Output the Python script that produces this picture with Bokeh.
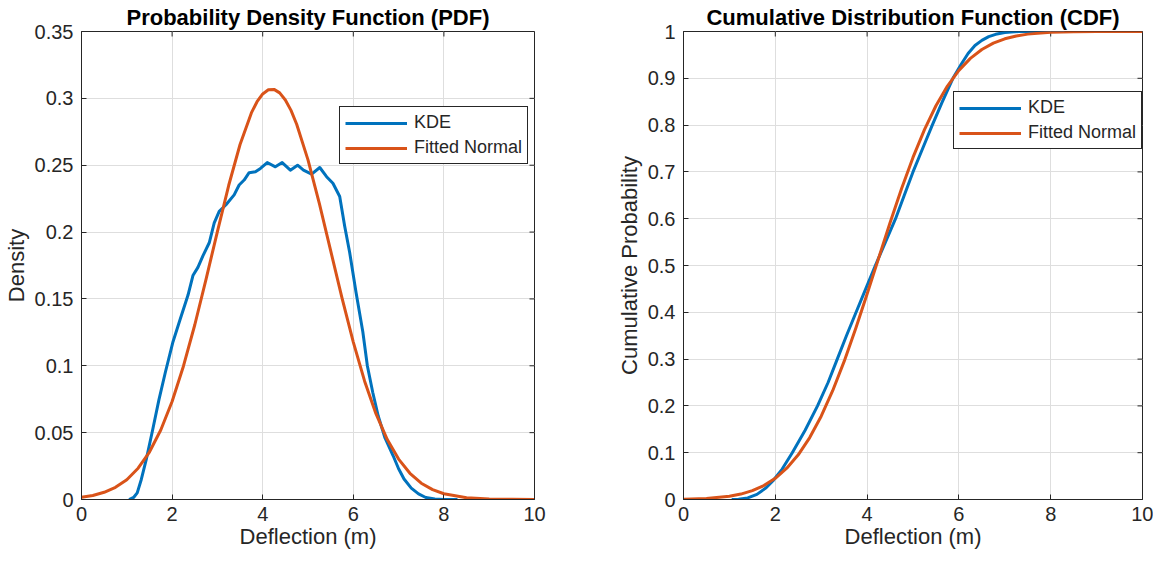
from math import pi
from bokeh.plotting import figure
from bokeh.layouts import row
from bokeh.models import FixedTicker, Legend, LegendItem
from bokeh.embed import file_html
from bokeh.resources import INLINE

# ---------------- data ----------------
x_ticks = [0, 2, 4, 6, 8, 10]
x_tick_labels = ["0", "2", "4", "6", "8", "10"]
pdf_y_ticks = [0, 0.05, 0.1, 0.15, 0.2, 0.25, 0.3, 0.35]
pdf_y_tick_labels = ["0", "0.05", "0.1", "0.15", "0.2", "0.25", "0.3", "0.35"]
cdf_y_ticks = [0, 0.1, 0.2, 0.3, 0.4, 0.5, 0.6, 0.7, 0.8, 0.9, 1]
cdf_y_tick_labels = ["0", "0.1", "0.2", "0.3", "0.4", "0.5", "0.6", "0.7", "0.8", "0.9", "1"]

kde_x = [1.05, 1.15, 1.23, 1.32, 1.43, 1.57, 1.71, 1.85, 2.02, 2.18, 2.35, 2.46,
         2.57, 2.68, 2.82, 2.93, 3.04, 3.19, 3.37, 3.48, 3.59, 3.70, 3.84, 3.95,
         4.10, 4.28, 4.43, 4.61, 4.77, 4.90, 5.08, 5.26, 5.41, 5.55, 5.70, 5.81,
         5.92, 6.06, 6.21, 6.31, 6.43, 6.55, 6.70, 6.88, 7.00, 7.12, 7.28, 7.44,
         7.60, 7.80, 8.00, 8.30]
kde_pdf = [0.0, 0.0015, 0.005, 0.015, 0.030, 0.052, 0.0747, 0.095, 0.118, 0.135,
           0.1527, 0.1675, 0.1736, 0.1822, 0.192, 0.2069, 0.2155, 0.2204, 0.2278,
           0.2352, 0.2389, 0.2444, 0.2451, 0.2476, 0.252, 0.2488, 0.252, 0.2463,
           0.25, 0.2463, 0.2433, 0.2483, 0.2414, 0.2365, 0.2266, 0.2044, 0.1847,
           0.155, 0.1255, 0.100, 0.080, 0.0624, 0.046, 0.0327, 0.023, 0.0153,
           0.0085, 0.0042, 0.0015, 0.0003, 0.0, 0.0]

norm_x = [0, 0.25, 0.5, 0.75, 1.0, 1.25, 1.5, 1.75, 2.0, 2.25, 2.5, 2.75, 3.0,
          3.25, 3.5, 3.75, 3.875, 4.0, 4.125, 4.25, 4.375, 4.5, 4.625, 4.75,
          5.0, 5.25, 5.5, 5.75, 6.0, 6.25, 6.5, 6.75, 7.0, 7.25, 7.5, 7.75,
          8.0, 8.5, 9.0, 9.5, 10.0]
norm_pdf = [0.0017, 0.0030, 0.0054, 0.0091, 0.0148, 0.0234, 0.0355, 0.0520,
            0.0733, 0.0997, 0.1305, 0.1648, 0.2004, 0.2350, 0.2655, 0.2891,
            0.2975, 0.3033, 0.3064, 0.3067, 0.3041, 0.2988, 0.2910, 0.2806,
            0.2540, 0.2215, 0.1861, 0.1508, 0.1177, 0.0885, 0.0642, 0.0448,
            0.0302, 0.0196, 0.0122, 0.0074, 0.0043, 0.0013, 0.0003, 0.0001, 0.0]

kde_cdf_x = [1.05, 1.2, 1.4, 1.6, 1.8, 1.95, 2.15, 2.37, 2.65, 2.92, 3.15, 3.35,
             3.55, 3.76, 3.97, 4.18, 4.40, 4.62, 4.81, 5.00, 5.21, 5.42, 5.64,
             5.87, 6.05, 6.20, 6.35, 6.50, 6.65, 6.80, 7.00, 7.30, 8.30]
kde_cdf = [0.0, 0.0004, 0.0035, 0.011, 0.025, 0.04, 0.065, 0.1, 0.148, 0.2,
           0.25, 0.3, 0.35, 0.4, 0.45, 0.5, 0.55, 0.6, 0.65, 0.7, 0.75, 0.8,
           0.85, 0.9, 0.93, 0.953, 0.97, 0.981, 0.989, 0.994, 0.998, 1.0, 1.0]

norm_cdf_x = [0, 0.5, 1.0, 1.25, 1.5, 1.75, 2.0, 2.25, 2.5, 2.75, 3.0, 3.25,
              3.5, 3.75, 4.0, 4.25, 4.5, 4.75, 5.0, 5.25, 5.5, 5.75, 6.0, 6.25,
              6.5, 6.75, 7.0, 7.25, 7.5, 8.0, 8.5, 9.0, 10.0]
norm_cdf = [0.0006, 0.0022, 0.0069, 0.0116, 0.0189, 0.0297, 0.0453, 0.0668,
            0.0955, 0.1323, 0.178, 0.2324, 0.2951, 0.3646, 0.4389, 0.5153,
            0.5913, 0.6639, 0.7309, 0.7904, 0.8413, 0.8834, 0.9169, 0.9426,
            0.9616, 0.9751, 0.9844, 0.9905, 0.9944, 0.9983, 0.9995, 0.9999, 1.0]

series_labels = ["KDE", "Fitted Normal"]

# ---------------- styling ----------------
BLUE = "#0072BD"
ORANGE = "#D95319"
DARK = "#262626"
GRID = "#dedede"
FONT = "Liberation Sans"
FIG_H = 554
TOP_B = 30
BOTTOM_B = 55
FRAME_H = FIG_H - TOP_B - BOTTOM_B
X_RANGE = (0, 10)


def make_fig(title, width, min_left, min_right, yr, y_ticks, y_labels, ylabel,
             xs1, ys1, xs2, ys2, legend_left, legend_top):
    p = figure(width=width, height=FIG_H, x_range=X_RANGE, y_range=yr,
               output_backend="svg", toolbar_location=None, title=title,
               min_border_left=min_left, min_border_right=min_right,
               min_border_top=TOP_B, min_border_bottom=BOTTOM_B,
               background_fill_color="white", border_fill_color="white")
    p.title.text_font = FONT
    p.title.text_font_size = "22px"
    p.title.text_font_style = "bold"
    p.title.text_color = "black"
    p.title.align = "center"
    p.title.standoff = 4

    xt = FixedTicker(ticks=x_ticks)
    yt = FixedTicker(ticks=y_ticks)

    xa = p.xaxis[0]
    xa.ticker = xt
    xa.major_label_overrides = dict(zip(x_ticks, x_tick_labels))
    xa.axis_label = "Deflection (m)"
    xa.major_label_standoff = 7
    xa.axis_label_standoff = 0

    ya = p.yaxis[0]
    ya.ticker = yt
    ya.major_label_overrides = dict(zip(y_ticks, y_labels))
    ya.axis_label = ylabel
    ya.major_label_standoff = 8
    ya.axis_label_standoff = 3

    for ax in (xa, ya):
        ax.major_tick_in = 5
        ax.major_tick_out = 0
        ax.minor_tick_in = 0
        ax.minor_tick_out = 0
        ax.axis_line_color = DARK
        ax.major_tick_line_color = DARK
        ax.major_label_text_font = FONT
        ax.major_label_text_font_size = "20px"
        ax.major_label_text_color = DARK
        ax.axis_label_text_font = FONT
        ax.axis_label_text_font_size = "22px"
        ax.axis_label_text_font_style = "normal"
        ax.axis_label_text_color = DARK

    p.xgrid.ticker = xt
    p.ygrid.ticker = yt
    p.xgrid.grid_line_color = GRID
    p.ygrid.grid_line_color = GRID

    p.outline_line_color = DARK
    p.outline_line_width = 1
    p.outline_line_alpha = 1

    # mirrored inward ticks on the top and right edges of the box
    p.ray(x=x_ticks, y=[yr[1]] * len(x_ticks), length=5, length_units="screen",
          angle=-pi / 2, line_color=DARK, line_width=1)
    p.ray(x=[X_RANGE[1]] * len(y_ticks), y=y_ticks, length=5, length_units="screen",
          angle=pi, line_color=DARK, line_width=1)

    r1 = p.line(xs1, ys1, line_width=3, line_color=BLUE, line_join="round")
    r2 = p.line(xs2, ys2, line_width=3, line_color=ORANGE, line_join="round")

    leg_h = 55
    leg = Legend(items=[LegendItem(label=series_labels[0], renderers=[r1]),
                        LegendItem(label=series_labels[1], renderers=[r2])],
                 location=(legend_left, FRAME_H - legend_top - leg_h))
    leg.label_text_font = FONT
    leg.label_text_font_size = "18px"
    leg.label_text_color = DARK
    leg.border_line_color = DARK
    leg.border_line_width = 1
    leg.border_line_alpha = 1
    leg.background_fill_color = "white"
    leg.background_fill_alpha = 1
    leg.glyph_width = 62
    leg.glyph_height = 20
    leg.label_height = 20
    leg.spacing = 4
    leg.padding = 5
    leg.label_standoff = 7
    leg.margin = 0
    p.add_layout(leg)
    return p


p1 = make_fig("Probability Density Function (PDF)", 613, 76, 79, (0, 0.35),
              pdf_y_ticks, pdf_y_tick_labels, "Density",
              kde_x, kde_pdf, norm_x, norm_pdf, 258, 79)
p2 = make_fig("Cumulative Distribution Function (CDF)", 540, 67, 11, (0, 1),
              cdf_y_ticks, cdf_y_tick_labels, "Cumulative Probability",
              kde_cdf_x, kde_cdf, norm_cdf_x, norm_cdf, 270, 64)

layout = row(p1, p2)
open("out.html", "w").write(file_html(layout, INLINE))
